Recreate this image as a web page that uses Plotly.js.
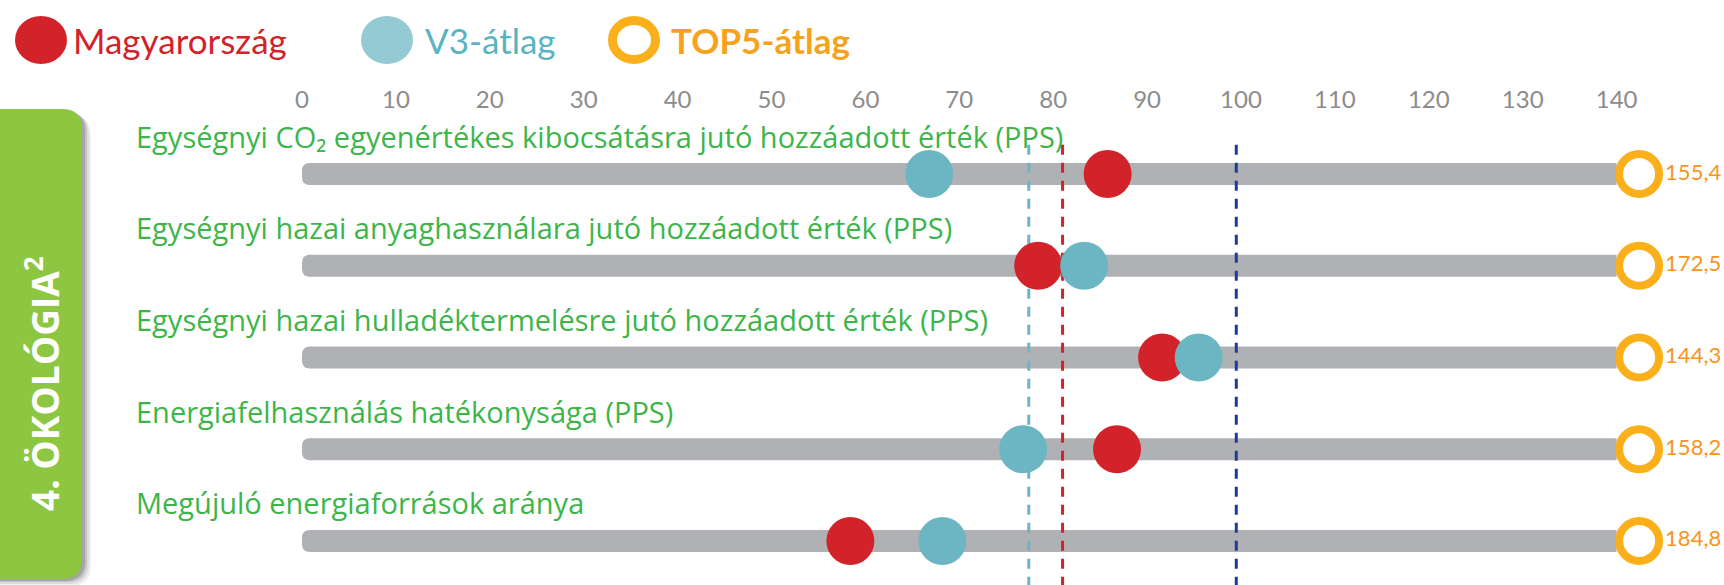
<!DOCTYPE html>
<html>
<head>
<meta charset="utf-8">
<script src="https://cdn.plot.ly/plotly-3.0.1.min.js"></script>
<style>html,body{margin:0;padding:0;background:#fff;}#chart{width:1724px;height:585px;}</style>
</head>
<body>
<div id="chart"></div>
<script>
// ---- data ----
const categories = [
  "Egységnyi CO₂ egyenértékes kibocsátásra jutó hozzáadott érték (PPS)",
  "Egységnyi hazai anyaghasználara jutó hozzáadott érték (PPS)",
  "Egységnyi hazai hulladéktermelésre jutó hozzáadott érték (PPS)",
  "Energiafelhasználás hatékonysága (PPS)",
  "Megújuló energiaforrások aránya"
];
const seriesNames = ["Magyarország", "V3-átlag", "TOP5-átlag"];
const huValues = [85.8, 78.4, 91.6, 86.8, 58.4];
const v3Values = [66.8, 83.3, 95.5, 76.8, 68.2];
const top5Values = [155.4, 172.5, 144.3, 158.2, 184.8];
const refValues = [77.4, 81.0, 99.5];          // V3-átlag, Magyarország, EU reference
const tickVals = [0, 10, 20, 30, 40, 50, 60, 70, 80, 90, 100, 110, 120, 130, 140];
const scaleMin = 0, scaleMax = 140;
const sectionTitle = "4. ÖKOLÓGIA<sup>2</sup>";

// ---- styling / layout constants ----
const W = 1724, H = 585, TOP = 114;
const PH = H - TOP;
const XR = [-32.16, 151.44];
const PX_PER_UNIT = W / (XR[1] - XR[0]);
const TOP5_MARK_X = 142.4; // off-scale marker placed past the axis end
const RED = "#d2232a", TEAL = "#6cb6c3", TEAL_LIGHT = "#93cad3", ORANGE = "#fbb01b", ORANGE_TXT = "#f7941d";
const GREEN_TXT = "#3db54a", BAR = "#b0b1b5", BOX = "#8dc641";
const FONT = "Lato, 'Open Sans', sans-serif";
const rows = categories.map((_, i) => i);
const py = p => (H - p) / PH;   // pixel-from-top -> paper y
const pxp = p => p / W;         // pixel-from-left -> paper x
const CAP = 8;                  // rounded cap width in px

const traces = [];
// bars
const bx = [], by = [];
rows.forEach(i => { bx.push(scaleMin + CAP / PX_PER_UNIT, scaleMax, null); by.push(i, i, null); });
traces.push({x: bx, y: by, mode: "lines", line: {color: BAR, width: 22}, hoverinfo: "skip", showlegend: false});
// reference dashed lines
const refColors = [TEAL, RED, "#1f3c95"];
refValues.forEach((v, k) => {
  traces.push({x: [v, v], y: [-0.32, 4.6], mode: "lines", line: {color: refColors[k], width: 3, dash: "10px,8px"}, hoverinfo: "skip", showlegend: false});
});
// dots
traces.push({x: huValues, y: rows, mode: "markers", name: seriesNames[0], marker: {color: RED, size: 48}, showlegend: false});
traces.push({x: v3Values, y: rows, mode: "markers", name: seriesNames[1], marker: {color: TEAL, size: 48}, showlegend: false});
traces.push({
  x: rows.map(() => TOP5_MARK_X), y: rows, mode: "markers+text", name: seriesNames[2],
  marker: {color: "#ffffff", size: 40, line: {color: ORANGE, width: 8}},
  text: top5Values.map(v => v.toFixed(1).replace(".", ",")),
  textposition: "middle right", textfont: {family: FONT, size: 22, color: ORANGE_TXT},
  cliponaxis: false, showlegend: false
});

// shapes
const shapes = [];
// rounded left caps of the bars
rows.forEach(i => {
  shapes.push({type: "path", xref: "x", yref: "y", xsizemode: "pixel", ysizemode: "pixel", xanchor: scaleMin, yanchor: i,
    path: `M ${CAP + 1},-11 L ${CAP},-11 Q 0,-11 0,-3 L 0,3 Q 0,11 ${CAP},11 L ${CAP + 1},11 Z`,
    fillcolor: BAR, line: {width: 0}, layer: "below"});
});
// green side box with shadow
const boxR = 82, boxT = 109, boxB = 579, rad = 20;
function boxPath(dx, dy) {
  const xr = pxp(boxR + dx), xl = pxp(-20), t = py(boxT + dy), b = py(boxB + dy);
  const rx = rad / W, ry = rad / PH;
  return `M ${xl},${t} L ${xr - rx},${t} Q ${xr},${t} ${xr},${t - ry} L ${xr},${b + ry} Q ${xr},${b} ${xr - rx},${b} L ${xl},${b} Z`;
}
[[9, 7, 0.06], [7, 5, 0.08], [5, 3, 0.12], [3, 2, 0.15]].forEach(s => {
  shapes.push({type: "path", xref: "paper", yref: "paper", path: boxPath(s[0], s[1]), fillcolor: `rgba(0,0,0,${s[2]})`, line: {width: 0}, layer: "below"});
});
shapes.push({type: "path", xref: "paper", yref: "paper", path: boxPath(0, 0), fillcolor: BOX, line: {width: 0}, layer: "below"});

// legend markers
const legendY = py(40);
const legendMarks = [
  {cx: 41, fill: RED, line: RED, lw: 0},
  {cx: 387, fill: TEAL_LIGHT, line: TEAL_LIGHT, lw: 0},
  {cx: 634, fill: "#ffffff", line: ORANGE, lw: 9}
];
legendMarks.forEach(m => {
  shapes.push({type: "circle", xref: "paper", yref: "paper", xsizemode: "pixel", ysizemode: "pixel",
    xanchor: pxp(m.cx), yanchor: legendY, x0: -26 + m.lw / 2, x1: 26 - m.lw / 2, y0: -24 + m.lw / 2, y1: 24 - m.lw / 2,
    fillcolor: m.fill, line: {color: m.line, width: m.lw}});
});

const annotations = [];
const legendText = [
  {x: 71, color: RED, bold: false},
  {x: 423, color: "#5ab3c1", bold: false},
  {x: 669, color: "#f7a21b", bold: true}
];
seriesNames.forEach((n, k) => {
  annotations.push({xref: "paper", yref: "paper", x: pxp(legendText[k].x), y: legendY, xanchor: "left", yanchor: "middle",
    text: legendText[k].bold ? `<b>${n}</b>` : n, showarrow: false,
    font: {family: FONT, size: 35, color: legendText[k].color}});
});
categories.forEach((c, i) => {
  annotations.push({xref: "paper", yref: "y", x: pxp(134), y: i, yshift: 38, xanchor: "left", yanchor: "middle",
    text: c, showarrow: false, font: {family: "'Open Sans', sans-serif", size: 29, color: GREEN_TXT}});
});
annotations.push({xref: "paper", yref: "paper", x: pxp(42), y: py(384), textangle: -90, xanchor: "center", yanchor: "middle",
  text: `<b>${sectionTitle}</b>`, showarrow: false, font: {family: "'Open Sans', sans-serif", size: 37, color: "#ffffff"}});

const layout = {
  width: W, height: H,
  margin: {l: 0, r: 0, t: TOP, b: 0, pad: 0},
  paper_bgcolor: "#ffffff", plot_bgcolor: "rgba(0,0,0,0)",
  showlegend: false,
  xaxis: {range: XR, side: "top", tickvals: tickVals, ticks: "", showgrid: false, zeroline: false,
    showline: false, tickfont: {family: FONT, size: 24, color: "#8c8c8c"}, fixedrange: true},
  yaxis: {range: [4.48, -0.654], visible: false, fixedrange: true},
  shapes: shapes,
  annotations: annotations
};
Plotly.newPlot("chart", traces, layout, {displayModeBar: false, staticPlot: true});
</script>
</body>
</html>
